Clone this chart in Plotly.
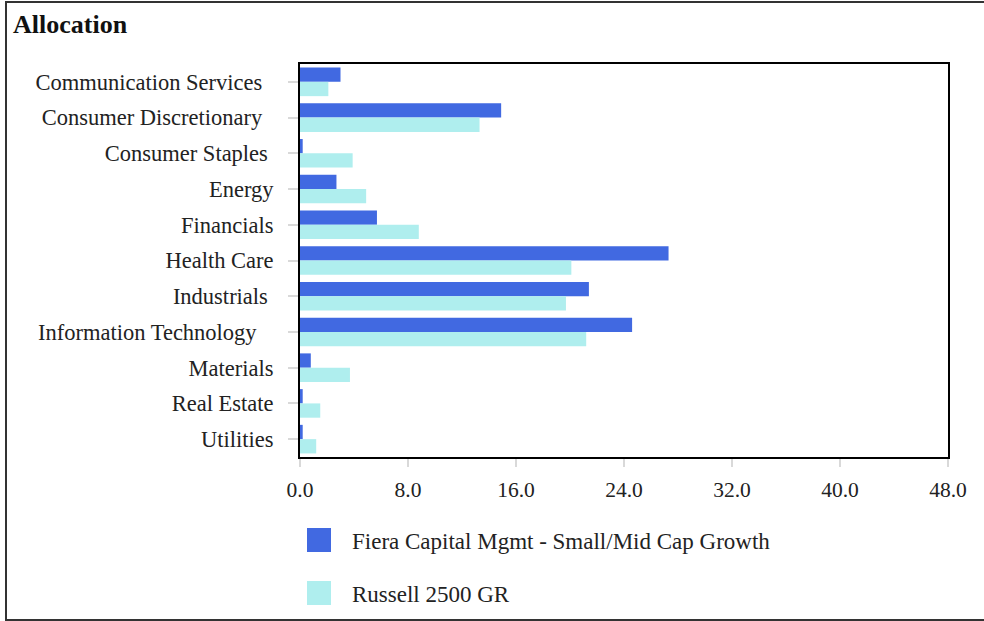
import plotly.graph_objects as go

categories = ["Communication Services", "Consumer Discretionary", "Consumer Staples", "Energy",
              "Financials", "Health Care", "Industrials", "Information Technology",
              "Materials", "Real Estate", "Utilities"]
series_names = ["Fiera Capital Mgmt - Small/Mid Cap Growth", "Russell 2500 GR"]
fiera = [3.0, 14.9, 0.2, 2.7, 5.7, 27.3, 21.4, 24.6, 0.8, 0.2, 0.2]
russell = [2.1, 13.3, 3.9, 4.9, 8.8, 20.1, 19.7, 21.2, 3.7, 1.5, 1.2]
x_ticks = [0, 8, 16, 24, 32, 40, 48]
colors = ["#4169E1", "#AFEEEE"]

FONT = "Liberation Serif"

# small trailing padding per label to mimic the reference label placement
pad = {"Communication Services": 2, "Consumer Discretionary": 2, "Consumer Staples": 1,
       "Information Technology": 3, "Industrials": 1}
ticktext = [c + "\u00a0" * pad.get(c, 0) for c in categories]

fig = go.Figure()
for name, vals, col in zip(series_names, [fiera, russell], colors):
    fig.add_trace(go.Bar(y=categories, x=vals, orientation="h", name=name,
                         marker=dict(color=col, line=dict(width=0)), showlegend=False))

L, R, T, B = 300, 36, 64, 164
W, H = 984, 621
pw, ph = W - L - R, H - T - B

def px_x(x):
    return (x - L) / pw

def px_y(y):
    return (H - B - y) / ph

shapes = [dict(type="rect", xref="paper", yref="paper",
               x0=px_x(6), x1=px_x(995), y0=px_y(620), y1=px_y(2),
               line=dict(color="#333333", width=2), fillcolor="rgba(0,0,0,0)", layer="below")]
annotations = [dict(text="<b>Allocation</b>", xref="paper", yref="paper", x=px_x(11), y=px_y(25),
                    xanchor="left", yanchor="middle", showarrow=False,
                    font=dict(family=FONT, size=26, color="#111111"))]
leg_y = [540, 593]
for name, col, cy in zip(series_names, colors, leg_y):
    shapes.append(dict(type="rect", xref="paper", yref="paper",
                       x0=px_x(307), x1=px_x(331), y0=px_y(cy + 12), y1=px_y(cy - 12),
                       fillcolor=col, line=dict(width=0)))
    annotations.append(dict(text=name, xref="paper", yref="paper", x=px_x(350), y=px_y(cy + 1),
                            xanchor="left", yanchor="middle", showarrow=False,
                            font=dict(family=FONT, size=23, color="#222222")))

fig.update_layout(
    width=W, height=H, margin=dict(l=L, r=R, t=T, b=B),
    paper_bgcolor="white", plot_bgcolor="white",
    barmode="group", bargap=0.2, bargroupgap=0,
    font=dict(family=FONT, size=22, color="#222222"),
    shapes=shapes, annotations=annotations,
    xaxis=dict(range=[0, 48], tickvals=x_ticks, tickformat=".1f", showgrid=False, zeroline=False,
               showline=True, linecolor="black", linewidth=2, mirror=True,
               ticks="outside", ticklen=8, tickcolor="#d9d9d9", tickwidth=2,
               ticklabelstandoff=4,
               tickfont=dict(family=FONT, size=21.5, color="#222222")),
    yaxis=dict(autorange="reversed", showgrid=False, zeroline=False,
               tickmode="array", tickvals=categories, ticktext=ticktext,
               showline=True, linecolor="black", linewidth=2, mirror=True,
               ticks="outside", ticklen=10, tickcolor="#d9d9d9", tickwidth=2,
               ticklabelstandoff=10,
               tickfont=dict(family=FONT, size=22.5, color="#222222")),
)

fig.write_html("out.html", config={"displayModeBar": False},
               post_script="document.body.style.margin='0';document.body.style.overflow='hidden';")
